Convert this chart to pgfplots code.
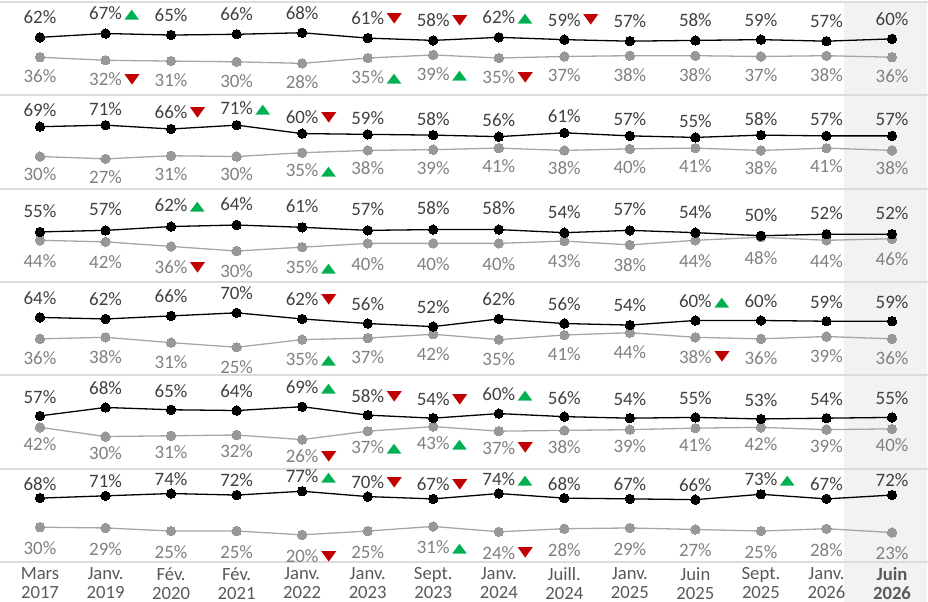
\documentclass[border=0pt]{standalone}
\usepackage{fontspec}
\setmainfont{Carlito}
\newfontfamily\symf{DejaVu Sans}
\usepackage{graphicx}
\usepackage{pgfplots}
\pgfplotsset{compat=1.18}
\usepackage{pgfplotstable}
\newdimen\PX \PX=0.75pt
\definecolor{upg}{HTML}{00B050}
\definecolor{dnr}{HTML}{C00000}
\definecolor{blktxt}{HTML}{404040}
\definecolor{grl}{HTML}{A6A6A6}
\definecolor{grdot}{HTML}{98979C}
\definecolor{grtxt}{HTML}{808080}
\definecolor{sepc}{HTML}{DCDCDC}
\definecolor{shadec}{HTML}{F2F2F2}
\definecolor{xlab}{HTML}{595959}
\newcommand\lbl{\fontsize{14.2pt}{16pt}\selectfont}
\newcommand\xl{\fontsize{14pt}{14.25pt}\selectfont}
\protected\def\Tu{\rlap{\hspace{2.5\PX}\raisebox{1\PX}{\color{upg}\resizebox{15\PX}{8.4\PX}{\symf ▲}}}}
\protected\def\Td{\rlap{\hspace{2.5\PX}\raisebox{2.2\PX}{\color{dnr}\resizebox{15.5\PX}{9\PX}{\symf ▼}}}}
\protected\def\N{\%}
\protected\def\U{\%\Tu}
\protected\def\D{\%\Td}

\pgfplotstableread[col sep=comma]{
x,b,bl,g,gl
0,62,62\N,36,36\N
1,67,67\U,32,32\D
2,65,65\N,31,31\N
3,66,66\N,30,30\N
4,68,68\N,28,28\N
5,61,61\D,35,35\U
6,58,58\D,39,39\U
7,62,62\U,35,35\D
8,59,59\D,37,37\N
9,57,57\N,38,38\N
10,58,58\N,38,38\N
11,59,59\N,37,37\N
12,57,57\N,38,38\N
13,60,60\N,36,36\N
}\rowA
\pgfplotstableread[col sep=comma]{
x,b,bl,g,gl
0,69,69\N,30,30\N
1,71,71\N,27,27\N
2,66,66\D,31,31\N
3,71,71\U,30,30\N
4,60,60\D,35,35\U
5,59,59\N,38,38\N
6,58,58\N,39,39\N
7,56,56\N,41,41\N
8,61,61\N,38,38\N
9,57,57\N,40,40\N
10,55,55\N,41,41\N
11,58,58\N,38,38\N
12,57,57\N,41,41\N
13,57,57\N,38,38\N
}\rowB
\pgfplotstableread[col sep=comma]{
x,b,bl,g,gl
0,55,55\N,44,44\N
1,57,57\N,42,42\N
2,62,62\U,36,36\D
3,64,64\N,30,30\N
4,61,61\N,35,35\U
5,57,57\N,40,40\N
6,58,58\N,40,40\N
7,58,58\N,40,40\N
8,54,54\N,43,43\N
9,57,57\N,38,38\N
10,54,54\N,44,44\N
11,50,50\N,48,48\N
12,52,52\N,44,44\N
13,52,52\N,46,46\N
}\rowC
\pgfplotstableread[col sep=comma]{
x,b,bl,g,gl
0,64,64\N,36,36\N
1,62,62\N,38,38\N
2,66,66\N,31,31\N
3,70,70\N,25,25\N
4,62,62\D,35,35\U
5,56,56\N,37,37\N
6,52,52\N,42,42\N
7,62,62\N,35,35\N
8,56,56\N,41,41\N
9,54,54\N,44,44\N
10,60,60\U,38,38\D
11,60,60\N,36,36\N
12,59,59\N,39,39\N
13,59,59\N,36,36\N
}\rowD
\pgfplotstableread[col sep=comma]{
x,b,bl,g,gl
0,57,57\N,42,42\N
1,68,68\N,30,30\N
2,65,65\N,31,31\N
3,64,64\N,32,32\N
4,69,69\U,26,26\D
5,58,58\D,37,37\U
6,54,54\D,43,43\U
7,60,60\U,37,37\D
8,56,56\N,38,38\N
9,54,54\N,39,39\N
10,55,55\N,41,41\N
11,53,53\N,42,42\N
12,54,54\N,39,39\N
13,55,55\N,40,40\N
}\rowE
\pgfplotstableread[col sep=comma]{
x,b,bl,g,gl
0,68,68\N,30,30\N
1,71,71\N,29,29\N
2,74,74\N,25,25\N
3,72,72\N,25,25\N
4,77,77\U,20,20\D
5,70,70\D,25,25\N
6,67,67\D,31,31\U
7,74,74\U,24,24\D
8,68,68\N,28,28\N
9,67,67\N,29,29\N
10,66,66\N,27,27\N
11,73,73\U,25,25\N
12,67,67\N,28,28\N
13,72,72\N,23,23\N
}\rowF

\pgfplotsset{
  rowax/.style={scale only axis, width=928\PX, height=93.333\PX,
    xmin=-0.6103, xmax=13.549, axis line style={draw=none},
    xtick=\empty, ytick=\empty, clip=false, anchor=north west,
    major tick length=0pt},
  blkser/.style={black, line width=1.3\PX, mark=*, mark size=4.7\PX,
    mark options={fill=black, draw=black, line width=0pt},
    point meta=explicit symbolic,
    nodes near coords,
    every node near coord/.append style={anchor=center, yshift=#1\PX, font=\lbl, text=blktxt, inner sep=0pt}},
  grser/.style={grl, line width=1.3\PX, mark=*, mark size=4.7\PX,
    mark options={fill=grdot, draw=grdot, line width=0pt},
    point meta=explicit symbolic,
    nodes near coords,
    every node near coord/.append style={anchor=center, yshift=#1\PX, font=\lbl, text=grtxt, inner sep=0pt}},
}

\begin{document}
\begin{tikzpicture}
\useasboundingbox (0,0) rectangle (928\PX,-602\PX);
\fill[shadec] (844\PX,-2\PX) rectangle (927\PX,-602\PX);

\begin{axis}[rowax, at={(0,-2\PX)}, ymin=-13.8, ymax=108.2]
\draw[sepc, line width=2\PX] (rel axis cs:0,1) -- (rel axis cs:1,1);
\draw[sepc, line width=2\PX] (rel axis cs:0,0) -- (rel axis cs:1,0);
\addplot[grser=-19] table[x=x, y=g, meta=gl] {\rowA};
\addplot[blkser=20] table[x=x, y=b, meta=bl] {\rowA};
\end{axis}

\begin{axis}[rowax, at={(0,-95.333\PX)}, ymin=-12, ymax=110]
\draw[sepc, line width=2\PX] (rel axis cs:0,0) -- (rel axis cs:1,0);
\addplot[grser=-18] table[x=x, y=g, meta=gl] {\rowB};
\addplot[blkser=16.5] table[x=x, y=b, meta=bl] {\rowB};
\end{axis}

\begin{axis}[rowax, at={(0,-188.667\PX)}, ymin=-10.5, ymax=111.5]
\draw[sepc, line width=2\PX] (rel axis cs:0,0) -- (rel axis cs:1,0);
\addplot[grser=-20.5] table[x=x, y=g, meta=gl] {\rowC};
\addplot[blkser=21] table[x=x, y=b, meta=bl] {\rowC};
\end{axis}

\begin{axis}[rowax, at={(0,-282\PX)}, ymin=-11.7, ymax=110.3]
\draw[sepc, line width=2\PX] (rel axis cs:0,0) -- (rel axis cs:1,0);
\addplot[grser=-19.5] table[x=x, y=g, meta=gl] {\rowD};
\addplot[blkser=19.5] table[x=x, y=b, meta=bl] {\rowD};
\end{axis}

\begin{axis}[rowax, at={(0,-375.333\PX)}, ymin=-12, ymax=110]
\draw[sepc, line width=2\PX] (rel axis cs:0,0) -- (rel axis cs:1,0);
\addplot[grser=-16.5] table[x=x, y=g, meta=gl] {\rowE};
\addplot[blkser=19] table[x=x, y=b, meta=bl] {\rowE};
\end{axis}

\begin{axis}[rowax, at={(0,-468.667\PX)}, ymin=-15.5, ymax=106.5,
  xtick={0,...,13},
  xticklabels={{Mars\\2017},{Janv.\\2019},{Fév.\\2020},{Fév.\\2021},{Janv.\\2022},{Janv.\\2023},{Sept.\\2023},{Janv.\\2024},{Juill.\\2024},{Janv.\\2025},{Juin\\2025},{Sept.\\2025},{Janv.\\2026},{\textbf{Juin}\\\textbf{2026}}},
  xticklabel style={align=center, font=\xl, text=xlab, anchor=north, inner sep=0pt, yshift=-5\PX}]
\draw[sepc, line width=2\PX] (rel axis cs:0,0) -- (rel axis cs:1,0);
\addplot[grser=-21] table[x=x, y=g, meta=gl] {\rowF};
\addplot[blkser=14.5] table[x=x, y=b, meta=bl] {\rowF};
\end{axis}
\end{tikzpicture}
\end{document}
